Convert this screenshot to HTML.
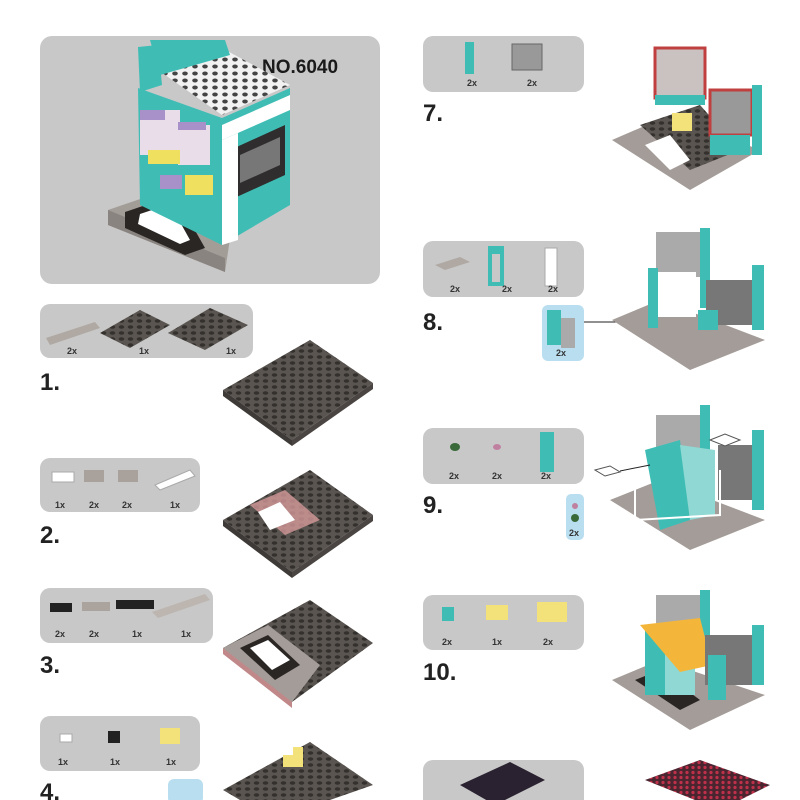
<!DOCTYPE html>
<html><head><meta charset="utf-8"><style>
html,body{margin:0;padding:0;background:#fff;width:800px;height:800px;overflow:hidden}
svg{display:block}
text{font-family:"Liberation Sans",sans-serif}
.n{font-size:24px;font-weight:bold;fill:#222}
.q{font-size:9px;font-weight:bold;fill:#333}
</style></head><body>
<svg width="800" height="800" viewBox="0 0 800 800" xmlns="http://www.w3.org/2000/svg">
<defs>
<pattern id="st" width="9" height="6" patternUnits="userSpaceOnUse">
<rect width="9" height="6" fill="#5a5551"/><ellipse cx="4.5" cy="3" rx="2.8" ry="1.8" fill="#34302d"/></pattern>
<pattern id="stw" width="10" height="7" patternUnits="userSpaceOnUse">
<rect width="10" height="7" fill="#f2f2f2"/><ellipse cx="5" cy="3.5" rx="2.8" ry="2" fill="#444"/></pattern>
<pattern id="str" width="6" height="5" patternUnits="userSpaceOnUse">
<rect width="6" height="5" fill="#4a2530"/><circle cx="3" cy="2.5" r="1.6" fill="#c0304a"/></pattern>
</defs>

<!-- top-left cover box -->
<rect x="40" y="36" width="340" height="248" rx="12" fill="#c8c8c8"/>
<text x="262" y="73" font-size="19" font-weight="bold" fill="#1a1a1a">NO.6040</text>
<polygon points="108,210 190,182 235,205 225,272 108,225" fill="#a39d98"/>
<polygon points="108,210 225,258 225,272 108,225" fill="#8a8480"/>
<polygon points="125,212 175,195 205,248 185,255 125,228" fill="#2a2624"/>
<polygon points="140,214 170,204 190,240 180,244 138,224" fill="#fff"/>
<polygon points="138,88 222,118 222,245 140,205" fill="#3fbdb5"/>
<polygon points="222,118 290,88 290,205 222,245" fill="#3fbdb5"/>
<polygon points="222,125 290,95 290,110 222,140" fill="#fff"/>
<polygon points="230,150 285,125 285,175 230,200" fill="#2f2d2d"/>
<polygon points="240,155 280,137 280,165 240,183" fill="#777"/>
<polygon points="222,140 238,133 238,240 222,245" fill="#fff"/>
<polygon points="158,70 222,48 290,85 222,115" fill="url(#stw)"/>
<polygon points="138,47 158,45 162,85 140,92" fill="#3fbdb5"/>
<polygon points="150,40 225,40 230,55 160,75" fill="#3fbdb5"/>
<rect x="140" y="110" width="40" height="45" fill="#e8dde8"/>
<rect x="178" y="125" width="32" height="40" fill="#e8dde8"/>
<rect x="148" y="150" width="32" height="14" fill="#f0e060"/>
<rect x="140" y="110" width="25" height="10" fill="#a890c8"/>
<rect x="178" y="122" width="28" height="8" fill="#a890c8"/>
<rect x="185" y="175" width="28" height="20" fill="#f0e060"/>
<rect x="160" y="175" width="22" height="14" fill="#a890c8"/>

<!-- Step 1 -->
<rect x="40" y="304" width="213" height="54" rx="10" fill="#c8c8c8"/>
<polygon points="46,338 95,322 100,328 50,345" fill="#b0a9a3"/>
<polygon points="100,333 140,310 170,325 130,348" fill="url(#st)"/>
<polygon points="168,333 210,308 248,325 205,350" fill="url(#st)"/>
<text x="67" y="354" class="q">2x</text><text x="139" y="354" class="q">1x</text><text x="226" y="354" class="q">1x</text>
<text x="40" y="390" class="n">1.</text>
<polygon points="223,390 310,340 373,383 292,440" fill="url(#st)"/>
<polygon points="223,390 292,440 292,446 223,396" fill="#3e3a37"/>
<polygon points="292,440 373,383 373,389 292,446" fill="#4a4542"/>

<!-- Step 2 -->
<rect x="40" y="458" width="160" height="54" rx="10" fill="#c8c8c8"/>
<rect x="52" y="472" width="22" height="10" fill="#fff" stroke="#aaa"/>
<rect x="84" y="470" width="20" height="12" fill="#a9a29c"/>
<rect x="118" y="470" width="20" height="12" fill="#a9a29c"/>
<polygon points="155,485 190,470 195,476 160,490" fill="#fff" stroke="#aaa"/>
<text x="55" y="508" class="q">1x</text><text x="89" y="508" class="q">2x</text><text x="122" y="508" class="q">2x</text><text x="170" y="508" class="q">1x</text>
<text x="40" y="543" class="n">2.</text>
<polygon points="223,520 310,470 373,515 292,572" fill="url(#st)"/>
<polygon points="223,520 292,572 292,578 223,526" fill="#3e3a37"/>
<polygon points="292,572 373,515 373,521 292,578" fill="#4a4542"/>
<polygon points="250,505 285,490 320,520 285,535" fill="#d49a9a" opacity="0.8"/>
<polygon points="258,512 280,502 295,520 270,530" fill="#fff"/>

<!-- Step 3 -->
<rect x="40" y="588" width="173" height="55" rx="10" fill="#c8c8c8"/>
<rect x="50" y="603" width="22" height="9" fill="#222"/>
<rect x="82" y="602" width="28" height="9" fill="#aaa39e"/>
<rect x="116" y="600" width="38" height="9" fill="#222"/>
<polygon points="152,612 205,594 210,600 158,618" fill="#bdb6b0"/>
<text x="55" y="637" class="q">2x</text><text x="89" y="637" class="q">2x</text><text x="132" y="637" class="q">1x</text><text x="181" y="637" class="q">1x</text>
<text x="40" y="673" class="n">3.</text>
<polygon points="223,648 310,600 373,643 292,702" fill="url(#st)"/>
<polygon points="223,648 268,625 320,665 292,702" fill="#a49c98"/>
<polygon points="240,648 268,635 300,665 275,680" fill="#2a2624"/>
<polygon points="250,648 268,640 290,660 272,670" fill="#fff"/>
<polygon points="223,648 292,702 292,708 223,654" fill="#c08888"/>

<!-- Step 4 -->
<rect x="40" y="716" width="160" height="55" rx="10" fill="#c8c8c8"/>
<rect x="60" y="734" width="12" height="8" fill="#fff" stroke="#aaa"/>
<rect x="108" y="731" width="12" height="12" fill="#222"/>
<rect x="160" y="728" width="20" height="16" fill="#f3e27a"/>
<text x="58" y="765" class="q">1x</text><text x="110" y="765" class="q">1x</text><text x="166" y="765" class="q">1x</text>
<text x="40" y="800" class="n">4.</text>
<rect x="168" y="779" width="35" height="25" rx="6" fill="#b9def0"/>
<polygon points="223,790 310,742 373,785 330,800 240,800" fill="url(#st)"/>
<rect x="283" y="747" width="20" height="20" fill="#f3e27a"/>
<rect x="283" y="747" width="10" height="8" fill="#fff"/>

<!-- Step 7 -->
<rect x="423" y="36" width="161" height="56" rx="10" fill="#c8c8c8"/>
<rect x="465" y="42" width="9" height="32" fill="#3fbdb5"/>
<rect x="512" y="44" width="30" height="26" fill="#999" stroke="#666"/>
<text x="467" y="86" class="q">2x</text><text x="527" y="86" class="q">2x</text>
<text x="423" y="121" class="n">7.</text>
<polygon points="612,140 670,115 760,150 690,190" fill="#a49c98"/>
<polygon points="640,125 700,105 740,150 690,170" fill="url(#st)"/>
<polygon points="645,145 670,135 690,160 670,170" fill="#fff"/>
<rect x="655" y="48" width="50" height="50" fill="#c9c2c0" stroke="#c04040" stroke-width="3"/>
<rect x="655" y="95" width="50" height="10" fill="#3fbdb5"/>
<rect x="710" y="90" width="42" height="45" fill="#999" stroke="#c04040" stroke-width="3"/>
<rect x="752" y="85" width="10" height="70" fill="#3fbdb5"/>
<rect x="710" y="135" width="40" height="20" fill="#3fbdb5"/>
<rect x="672" y="113" width="20" height="18" fill="#f3e27a"/>

<!-- Step 8 -->
<rect x="423" y="241" width="161" height="56" rx="10" fill="#c8c8c8"/>
<polygon points="435,265 460,257 470,262 445,270" fill="#b0a9a3"/>
<rect x="488" y="246" width="16" height="40" fill="#3fbdb5"/><rect x="492" y="254" width="8" height="28" fill="#c8c8c8"/>
<rect x="545" y="248" width="12" height="38" fill="#fff" stroke="#aaa"/>
<text x="450" y="292" class="q">2x</text><text x="502" y="292" class="q">2x</text><text x="548" y="292" class="q">2x</text>
<text x="423" y="330" class="n">8.</text>
<rect x="542" y="305" width="42" height="56" rx="6" fill="#b9def0"/>
<rect x="547" y="310" width="14" height="35" fill="#3fbdb5"/><rect x="561" y="318" width="14" height="30" fill="#aaa"/>
<text x="556" y="356" class="q">2x</text>
<line x1="584" y1="322" x2="700" y2="322" stroke="#222" stroke-width="1"/>
<polygon points="612,320 660,300 765,340 690,370" fill="#a49c98"/>
<rect x="656" y="232" width="52" height="45" fill="#aaa"/>
<rect x="700" y="228" width="10" height="80" fill="#3fbdb5"/>
<rect x="648" y="268" width="10" height="60" fill="#3fbdb5"/>
<rect x="658" y="272" width="38" height="45" fill="#fff"/>
<rect x="706" y="280" width="50" height="45" fill="#777"/>
<rect x="752" y="265" width="12" height="65" fill="#3fbdb5"/>
<rect x="698" y="310" width="20" height="20" fill="#3fbdb5"/>

<!-- Step 9 -->
<rect x="423" y="428" width="161" height="56" rx="10" fill="#c8c8c8"/>
<ellipse cx="455" cy="447" rx="5" ry="4" fill="#3a6a3a"/>
<ellipse cx="497" cy="447" rx="4" ry="3" fill="#c080a0"/>
<rect x="540" y="432" width="14" height="40" fill="#3fbdb5"/>
<text x="449" y="479" class="q">2x</text><text x="492" y="479" class="q">2x</text><text x="541" y="479" class="q">2x</text>
<text x="423" y="513" class="n">9.</text>
<rect x="566" y="494" width="18" height="46" rx="5" fill="#b9def0"/>
<circle cx="575" cy="506" r="3" fill="#c080a0"/><circle cx="575" cy="518" r="4" fill="#3a6a3a"/>
<text x="569" y="536" class="q">2x</text>
<polygon points="610,500 660,480 765,520 690,550" fill="#a49c98"/>
<rect x="656" y="415" width="52" height="45" fill="#aaa"/>
<rect x="700" y="405" width="10" height="80" fill="#3fbdb5"/>
<polygon points="645,450 680,440 690,520 660,530" fill="#3fbdb5"/>
<polygon points="680,445 715,450 715,515 690,520" fill="#8fd8d3"/>
<rect x="718" y="445" width="38" height="55" fill="#777"/>
<rect x="752" y="430" width="12" height="80" fill="#3fbdb5"/>
<polygon points="595,470 610,466 620,472 605,476" fill="#fff" stroke="#555"/>
<polygon points="710,440 725,434 740,440 725,446" fill="#fff" stroke="#555"/>
<line x1="620" y1="471" x2="650" y2="465" stroke="#222"/>
<polyline points="635,486 635,520 720,515 720,470" fill="none" stroke="#fff" stroke-width="2"/>

<!-- Step 10 -->
<rect x="423" y="595" width="161" height="55" rx="10" fill="#c8c8c8"/>
<rect x="442" y="607" width="12" height="14" fill="#3fbdb5"/>
<rect x="486" y="605" width="22" height="15" fill="#f3e27a"/>
<rect x="537" y="602" width="30" height="20" fill="#f3e27a"/>
<text x="442" y="645" class="q">2x</text><text x="492" y="645" class="q">1x</text><text x="543" y="645" class="q">2x</text>
<text x="423" y="680" class="n">10.</text>
<polygon points="612,680 660,660 765,695 690,730" fill="#a49c98"/>
<polygon points="635,680 660,670 700,700 680,710" fill="#2a2624"/>
<rect x="656" y="595" width="52" height="45" fill="#aaa"/>
<rect x="700" y="590" width="10" height="70" fill="#3fbdb5"/>
<rect x="645" y="625" width="20" height="70" fill="#3fbdb5"/>
<rect x="665" y="625" width="30" height="70" fill="#8fd8d3"/>
<polygon points="640,625 700,618 712,665 680,672" fill="#f4b63a"/>
<rect x="705" y="635" width="50" height="50" fill="#777"/>
<rect x="752" y="625" width="12" height="60" fill="#3fbdb5"/>
<rect x="708" y="655" width="18" height="45" fill="#3fbdb5"/>

<!-- Step 11 (partial) -->
<rect x="423" y="760" width="161" height="50" rx="10" fill="#c8c8c8"/>
<polygon points="460,785 510,762 545,780 495,805" fill="#2a2230"/>
<polygon points="645,780 700,760 770,785 720,810" fill="url(#str)"/>
</svg>
</body></html>
